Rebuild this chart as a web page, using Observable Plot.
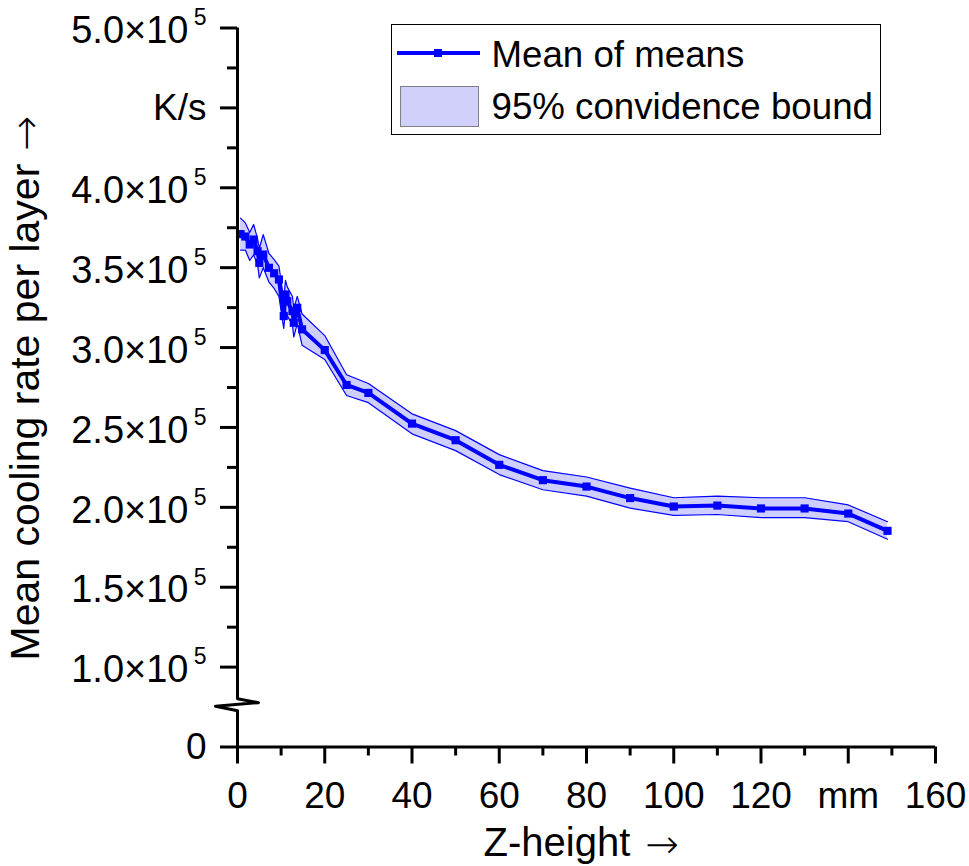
<!DOCTYPE html>
<html>
<head>
<meta charset="utf-8">
<script src="https://cdn.jsdelivr.net/npm/d3@7"></script>
<script src="https://cdn.jsdelivr.net/npm/@observablehq/plot@0.6"></script>
<style>
  body { margin: 0; background: #fff; }
  #wrap { position: relative; width: 969px; height: 866px; font-family: "Liberation Sans", Arial, sans-serif; }
  #legend { position: absolute; left: 391px; top: 24px; width: 488px; height: 109px; border: 1.5px solid #000; background: #fff; }
  #legend .txt { position: absolute; left: 99.5px; font-size: 36.7px; line-height: 1; white-space: nowrap; color: #000; }
  #legend .ln { position: absolute; left: 5px; top: 26px; width: 83px; height: 4px; background: #0000ff; }
  #legend .mk { position: absolute; left: 42px; top: 24px; width: 8px; height: 8px; background: #0000ff; }
  #legend .sw { position: absolute; left: 8px; top: 61px; width: 77px; height: 39px; background: #d0d0fb; border: 1px solid #808080; }
</style>
</head>
<body>
<div id="wrap">
  <div id="legend">
    <div class="ln"></div><div class="mk"></div>
    <div class="txt" style="top:12px">Mean of means</div>
    <div class="sw"></div>
    <div class="txt" style="top:63.5px">95% convidence bound</div>
  </div>
</div>
<script>
// Z-height (mm) and mean cooling rate per layer (K/s)
const zHeight = [0.7, 1.8, 2.8, 3.7, 4.6, 5.0, 5.9, 7.2, 8.4, 9.5, 10.6, 11.0, 11.4, 12.6, 12.9, 13.7, 14.8,
                 20, 25, 30, 40, 50, 60, 70, 80, 90, 100, 110, 120, 130, 140, 149];
const meanRate = [371000, 369500, 364500, 367600, 360300, 353000, 358200, 349900, 346500, 342600, 319700, 333200, 329000, 322800, 315500, 324900, 311400,
                  298400, 276600, 271600, 252400, 242000, 226600, 217000, 213000, 205800, 200500, 201100, 199300, 199300, 196100, 185300];
// 95% confidence bounds
const upperRate = [381000, 378000, 372000, 377000, 368000, 362000, 370700, 359000, 355000, 351000, 330000, 342000, 338000, 332000, 324000, 332000, 321000,
                   307500, 283000, 277500, 258500, 248000, 233000, 223000, 219000, 212000, 206000, 207000, 206000, 206000, 201500, 191000];
const lowerRate = [361000, 361000, 354500, 358000, 352000, 343600, 350000, 341000, 337000, 332000, 312000, 323000, 320000, 314000, 306600, 315000, 301500,
                   292500, 270000, 265500, 246000, 235500, 220500, 211000, 207000, 199500, 195000, 195500, 193500, 193500, 191000, 180000];

// axis ticks
const xTicks = [0, 20, 40, 60, 80, 100, 120, 140, 160];
const xTickLabels = ["0", "20", "40", "60", "80", "100", "120", "mm", "160"];
const xMinor = [10, 30, 50, 70, 90, 110, 130, 150];
const yTicks = [50000, 100000, 150000, 200000, 250000, 300000, 350000, 400000, 450000, 500000];
const yTickBase = ["0", "1.0×10", "1.5×10", "2.0×10", "2.5×10", "3.0×10", "3.5×10", "4.0×10", "K/s", "5.0×10"];
const yTickExp = ["", "5", "5", "5", "5", "5", "5", "5", "", "5"];
const yMinor = [125000, 175000, 225000, 275000, 325000, 375000, 425000, 475000];
const yBreak = 76500; // axis break between 0 and 1.0×10^5

const rows = zHeight.map((z, i) => ({z, mean: meanRate[i], hi: upperRate[i], lo: lowerRate[i]}));
const yLabelRows = yTicks.map((v, i) => ({v, base: yTickBase[i], exp: yTickExp[i]}));
const expLabels = yLabelRows.filter(d => d.exp);
const plainLabels = yLabelRows.filter(d => !d.exp);

const W = 969, H = 866, ML = 237, MR = 34, MT = 27.5, MB = 119.5;
const xDom = [0, 160], yDom = [50000, 500000];
const kx = (W - ML - MR) / (xDom[1] - xDom[0]);
const ky = (H - MT - MB) / (yDom[1] - yDom[0]);
// zigzag break symbol, pixel offsets turned into data units
const breakPts = [[0, -6], [21, -2], [-22, 1.5], [0, 6]].map(([px, py]) => ({x: px / kx, y: yBreak - py / ky}));

const font = "Liberation Sans, Arial, sans-serif";
const arrowFont = "DejaVu Sans, sans-serif";
const blue = "#0000ff";

const chart = Plot.plot({
  width: W,
  height: H,
  marginLeft: ML,
  marginRight: MR,
  marginTop: MT,
  marginBottom: MB,
  x: {domain: xDom},
  y: {domain: yDom},
  style: {fontFamily: font, background: "#fff"},
  marks: [
    // confidence band
    Plot.areaY(rows, {x: "z", y1: "lo", y2: "hi", fill: blue, fillOpacity: 0.19}),
    Plot.line(rows, {x: "z", y: "hi", stroke: blue, strokeWidth: 1.2}),
    Plot.line(rows, {x: "z", y: "lo", stroke: blue, strokeWidth: 1.2}),
    // mean of means
    Plot.line(rows, {x: "z", y: "mean", stroke: blue, strokeWidth: 4}),
    Plot.dot(rows, {x: "z", y: "mean", symbol: "square", r: 4.6, fill: blue}),

    // axis lines with break
    Plot.ruleY([yDom[0]], {x1: 0, x2: xDom[1], strokeWidth: 3}),
    Plot.ruleX([0], {y1: yDom[0], y2: yBreak - 6 / ky, strokeWidth: 3}),
    Plot.ruleX([0], {y1: yBreak + 6 / ky, y2: yDom[1], strokeWidth: 3}),
    Plot.line(breakPts, {x: "x", y: "y", stroke: "#000", strokeWidth: 3}),

    // ticks
    Plot.axisX({ticks: xTicks, tickSize: 17, strokeWidth: 3, tickFormat: () => "", label: null}),
    Plot.axisX({ticks: xMinor, tickSize: 9, strokeWidth: 3, tickFormat: () => "", label: null}),
    Plot.axisY({ticks: yTicks, tickSize: 17, strokeWidth: 3, tickFormat: () => "", label: null}),
    Plot.axisY({ticks: yMinor, tickSize: 10, strokeWidth: 3, tickFormat: () => "", label: null}),

    // tick labels
    Plot.text(xTicks, {x: d => d, y: yDom[0], text: (d, i) => xTickLabels[i], dy: 49, fontSize: 37, fill: "#000"}),
    Plot.text(plainLabels, {x: 0, y: "v", text: "base", textAnchor: "end", dx: -31, dy: 0, fontSize: 37, fill: "#000"}),
    Plot.text(expLabels, {x: 0, y: "v", text: "base", textAnchor: "end", dx: -49, dy: 3, fontSize: 38, fill: "#000"}),
    Plot.text(expLabels, {x: 0, y: "v", text: "exp", textAnchor: "end", dx: -31, dy: -10, fontSize: 23, fill: "#000"}),

    // axis titles
    Plot.text(["Z-height"], {frameAnchor: "bottom", lineAnchor: "middle", textAnchor: "start", dx: -103, dy: 96, fontSize: 40, fill: "#000"}),
    Plot.text(["→"], {frameAnchor: "bottom", lineAnchor: "middle", textAnchor: "start", dx: 59, dy: 98, fontSize: 40, fontWeight: 200, fontFamily: arrowFont, fill: "#000"}),
    Plot.text(["Mean cooling rate per layer"], {frameAnchor: "left", lineAnchor: "middle", rotate: -90, textAnchor: "start", dx: -212, dy: 273, fontSize: 41, fill: "#000"}),
    Plot.text(["→"], {frameAnchor: "left", lineAnchor: "middle", rotate: -90, textAnchor: "end", dx: -211, dy: -272, fontSize: 42, fontWeight: 200, fontFamily: arrowFont, fill: "#000"})
  ]
});

document.getElementById("wrap").prepend(chart);
</script>
</body>
</html>
